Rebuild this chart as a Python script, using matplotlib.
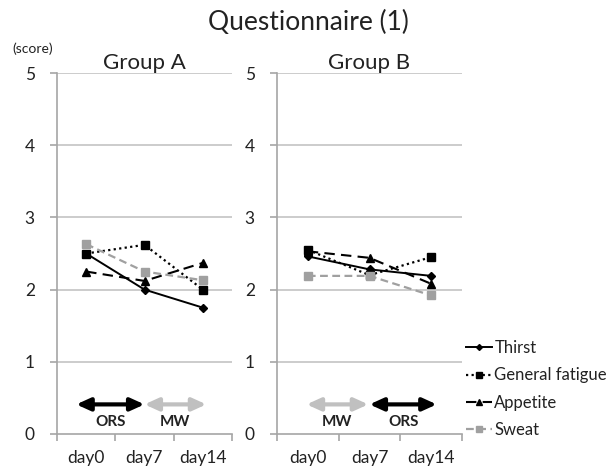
import matplotlib
matplotlib.use("Agg")
import matplotlib.pyplot as plt
from matplotlib.lines import Line2D

plt.rcParams['font.family'] = ['Lato', 'DejaVu Sans']

days = ["day0", "day7", "day14"]
yticks = [0, 1, 2, 3, 4, 5]
series_names = ["Thirst", "General fatigue", "Appetite", "Sweat"]

groupA_thirst = [2.50, 2.00, 1.75]
groupA_fatigue = [2.50, 2.62, 2.00]
groupA_appetite = [2.25, 2.12, 2.37]
groupA_sweat = [2.63, 2.25, 2.13]

groupB_thirst = [2.46, 2.28, 2.19]
groupB_fatigue = [2.55, 2.20, 2.45]
groupB_appetite = [2.53, 2.44, 2.08]
groupB_sweat = [2.19, 2.19, 1.92]

styles = [
    dict(color='black', ls='-', marker='D', ms=4, lw=1.4),
    dict(color='black', ls=(0, (1, 1.5)), marker='s', ms=6, lw=1.6),
    dict(color='black', ls=(0, (5, 3)), marker='^', ms=6, lw=1.5),
    dict(color='#a0a0a0', ls=(0, (3.5, 2)), marker='s', ms=6, lw=1.6),
]

grid_c = '#c4c4c4'
axis_c = '#a6a6a6'
txt_c = '#222222'

fig = plt.figure(figsize=(6.12, 4.66), dpi=100)
H = 466.0
W = 612.0
def make_ax(x0, x1, ytop, ybot):
    return fig.add_axes([x0 / W, (H - ybot) / H, (x1 - x0) / W, (ybot - ytop) / H])

axA = make_ax(57, 232, 73, 434)
axB = make_ax(277, 462, 73, 434)

panels = [
    (axA, [groupA_thirst, groupA_fatigue, groupA_appetite, groupA_sweat], "Group A",
     [(-0.17, 1.0, 'black', 'ORS'), (1.0, 2.06, '#c0c0c0', 'MW')]),
    (axB, [groupB_thirst, groupB_fatigue, groupB_appetite, groupB_sweat], "Group B",
     [(-0.02, 0.98, '#c0c0c0', 'MW'), (1.0, 2.09, 'black', 'ORS')]),
]

x = list(range(len(days)))
for ax, data, title, arrows in panels:
    ax.set_xlim(-0.5, 2.5)
    ax.set_ylim(0, 5)
    for s in ['top', 'right']:
        ax.spines[s].set_visible(False)
    ax.spines['left'].set_color(axis_c)
    ax.spines['bottom'].set_color(axis_c)
    ax.spines['left'].set_linewidth(1.2)
    ax.spines['bottom'].set_linewidth(1.2)
    ax.set_yticks(yticks)
    ax.set_yticklabels([str(v) for v in yticks], fontsize=12.5, color=txt_c)
    ax.tick_params(axis='y', length=5, color=axis_c, width=1.2, pad=11)
    for v in yticks[1:]:
        ax.axhline(v, color=grid_c, lw=1.2, zorder=0)
    ax.set_xticks([-0.5, 0.5, 1.5, 2.5])
    ax.set_xticklabels([])
    ax.tick_params(axis='x', length=5, color=axis_c, width=1.2)
    for i, d in enumerate(days):
        ax.text(i, -0.22, d, ha='center', va='top', fontsize=12.5, color=txt_c)
    for vals, st in zip(data, styles):
        ax.plot(x, vals, color=st['color'], ls=st['ls'], lw=st['lw'],
                marker=st['marker'], ms=st['ms'], mec=st['color'], mfc=st['color'],
                clip_on=False, zorder=3)
    ax.set_title(title, fontsize=16, color=txt_c, pad=3)
    for (xa, xb, c, lab) in arrows:
        ax.annotate('', xy=(xb, 0.41), xytext=(xa, 0.41),
                    arrowprops=dict(arrowstyle='<|-|>,head_length=0.55,head_width=0.25',
                                    lw=3.0, color=c, shrinkA=0, shrinkB=0,
                                    mutation_scale=15))
        ax.text((xa + xb) / 2, 0.17, lab, ha='center', va='center',
                fontsize=11, fontweight='bold', color='#222222')

fig.text(308 / W, 1 - 22 / H, "Questionnaire (1)", ha='center', va='center',
         fontsize=19, color=txt_c)
fig.text(33 / W, 1 - 49 / H, "(score)", ha='center', va='center',
         fontsize=10, color=txt_c)

handles = [Line2D([], [], color=st['color'], ls=st['ls'], lw=st['lw'],
                  marker=st['marker'], ms=st['ms'] - 1, mec=st['color'], mfc=st['color'])
           for st in styles]
leg = fig.legend(handles, series_names, loc='upper left',
                 bbox_to_anchor=(466 / W, 1 - 340 / H), frameon=False,
                 fontsize=12, handlelength=1.55, handletextpad=0.15,
                 labelspacing=0.68, borderaxespad=0, borderpad=0)
for t in leg.get_texts():
    t.set_color(txt_c)

fig.savefig("out.png", dpi=100)
